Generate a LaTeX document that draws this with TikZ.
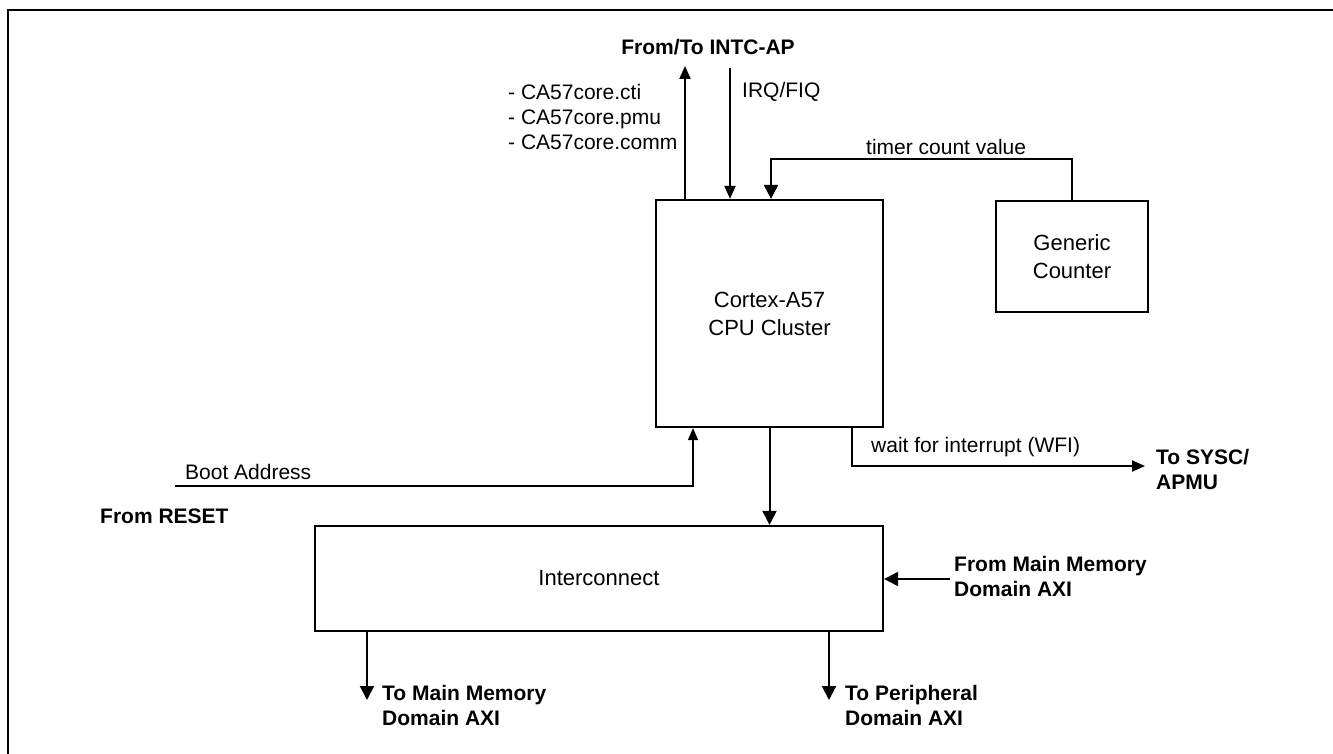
\documentclass[tikz,border=0pt]{standalone}
\usepackage{fontspec}
\setmainfont{Liberation Sans}
\usetikzlibrary{arrows.meta}
\begin{document}
\begin{tikzpicture}[x=1pt,y=-1pt,
  box/.style={draw,line width=2.2pt,inner sep=0pt,font=\fontsize{22}{28}\selectfont,align=center},
  conn/.style={line width=2pt,-{Triangle[length=13pt,width=11pt]}},
  bigconn/.style={line width=2pt,-{Triangle[length=14pt,width=14pt]}},
  thinconn/.style={line width=1.3pt,-{Triangle[length=12pt,width=10pt]}},
  lbl/.style={font=\fontsize{21}{25}\selectfont,inner sep=0pt,align=left,anchor=west},
  blbl/.style={font=\fontsize{21}{25}\selectfont\bfseries,inner sep=0pt,align=left,anchor=west}]
\useasboundingbox (0,0) rectangle (1333,754);
\draw[line width=2.5pt] (8,754) -- (8,10) -- (1333,10);

\node[box,minimum width=227pt,minimum height=227pt] (cpu) at (769.5,313.5) {Cortex-A57\\CPU Cluster};
\node[box,minimum width=152pt,minimum height=111pt] (cnt) at (1072,256.5) {Generic\\Counter};
\node[box,minimum width=568pt,minimum height=105pt] (ic) at (599,578.5) {Interconnect};

% top arrows
\coordinate (apOut) at (685,66);
\coordinate (irqIn) at (730,68);
\draw[conn] (apOut |- cpu.north) -- (apOut);
\draw[conn] (irqIn) -- (irqIn |- cpu.north);
\coordinate (tmr) at (771,159);
\draw[bigconn] (cnt.north) -- (cnt.north |- tmr) -- (tmr) -- (tmr |- cpu.north);

% WFI
\coordinate (wfi) at (852,466);
\coordinate (sysc) at (1145,466);
\draw[conn] (wfi |- cpu.south) -- (wfi) -- (sysc);

% CPU to interconnect
\draw[bigconn] (cpu.south) -- (cpu.south |- ic.north);

% boot
\coordinate (boot) at (175,486);
\coordinate (bootx) at (693,486);
\draw[thinconn] (boot) -- (bootx) -- (bootx |- cpu.south);

% from main memory
\coordinate (fmm) at (950,579);
\draw[bigconn] (fmm) -- (fmm -| ic.east);

% outputs
\coordinate (tmm) at (367,700);
\coordinate (tpd) at (829,700);
\draw[bigconn] (tmm |- ic.south) -- (tmm);
\draw[bigconn] (tpd |- ic.south) -- (tpd);

% labels
\node[blbl,anchor=center] (lintc) at (708,47) {From/To INTC-AP};
\node[lbl] (lca) at (508,117) {- CA57core.cti\\- CA57core.pmu\\- CA57core.comm};
\node[lbl] (lirq) at (742,92) {IRQ/FIQ};
\node[lbl] (ltmr) at (866,147) {timer count value};
\node[lbl] (lwfi) at (871,447) {wait for interrupt (WFI)};
\node[blbl] (lsysc) at (1156,469) {To SYSC/\\APMU};
\node[lbl] (lboot) at (185,472) {Boot Address};
\node[blbl] (lreset) at (100,516) {From RESET};
\node[blbl] (lfmm) at (954,576) {From Main Memory\\Domain AXI};
\node[blbl] (ltmm) at (382,705) {To Main Memory\\Domain AXI};
\node[blbl] (ltpd) at (845,705) {To Peripheral\\Domain AXI};
\end{tikzpicture}
\end{document}
